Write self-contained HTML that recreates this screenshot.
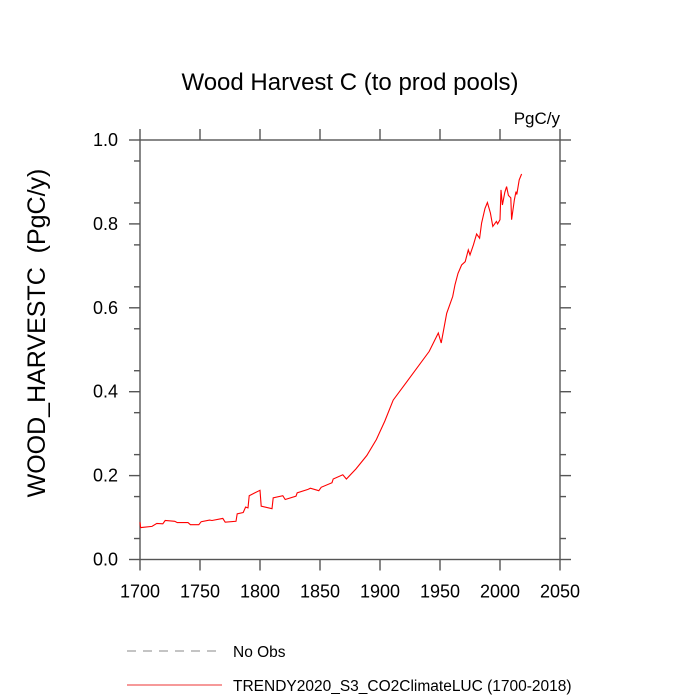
<!DOCTYPE html>
<html><head><meta charset="utf-8"><style>
body{margin:0;background:#fff;}
svg{display:block;font-family:"Liberation Sans",sans-serif;}
</style></head><body>
<svg width="700" height="700">
<text x="350" y="90" text-anchor="middle" font-size="24">Wood Harvest C (to prod pools)</text>
<text x="560" y="124" text-anchor="end" font-size="17">PgC/y</text>
<text transform="translate(45,333) rotate(-90)" text-anchor="middle" font-size="25">WOOD_HARVESTC&#160;&#160;(PgC/y)</text>
<g id="axes"></g>
<g id="series"></g>
<line x1="127" y1="651" x2="222" y2="651" stroke="#888" stroke-width="1" stroke-dasharray="9,7"/>
<text x="233" y="657" font-size="15.5">No Obs</text>
<line x1="127" y1="685" x2="222" y2="685" stroke="#e33" stroke-width="1"/>
<text x="233" y="691" font-size="15.5">TRENDY2020_S3_CO2ClimateLUC (1700-2018)</text>
</svg>
<script>
const years=[1700,1700.5,1710,1714,1719,1721,1729,1731,1740,1742,1749,1751,1758,1760,1769,1771,1780,1781,1786,1788,1790,1791,1800,1801,1810,1811,1819,1821,1830,1831,1840,1842,1849,1851,1860,1861,1869,1872,1880,1889,1897,1904,1911,1924,1941,1948.6,1951,1955.6,1960.6,1962.5,1965,1968,1971,1973.6,1975,1977.8,1980.5,1983,1984.7,1987.5,1989.5,1992,1994,1997,1998,2000,2000.8,2002,2004,2005.5,2007,2009,2009.7,2012,2013.3,2014,2016,2018];
const values=[0.089,0.076,0.079,0.086,0.085,0.093,0.091,0.088,0.088,0.083,0.083,0.090,0.094,0.093,0.098,0.089,0.091,0.109,0.112,0.125,0.123,0.152,0.165,0.127,0.121,0.147,0.152,0.143,0.151,0.159,0.167,0.170,0.164,0.172,0.183,0.192,0.202,0.192,0.216,0.248,0.286,0.330,0.380,0.430,0.496,0.540,0.516,0.587,0.627,0.655,0.682,0.702,0.710,0.738,0.726,0.750,0.776,0.766,0.802,0.837,0.851,0.826,0.794,0.806,0.800,0.810,0.881,0.845,0.875,0.889,0.868,0.862,0.810,0.858,0.877,0.870,0.905,0.919];
const xTicks=[1700,1750,1800,1850,1900,1950,2000,2050];
const yTicks=[0.0,0.2,0.4,0.6,0.8,1.0];
const X0=140,X1=560,Y0=559.5,Y1=140;
const xs=v=>X0+(v-1700)/350*(X1-X0);
const ys=v=>Y0-v*(Y0-Y1);
const NS="http://www.w3.org/2000/svg";
const ax=document.getElementById('axes');
function ln(x1,y1,x2,y2,name){const l=document.createElementNS(NS,'line');l.setAttribute('x1',x1);l.setAttribute('y1',y1);l.setAttribute('x2',x2);l.setAttribute('y2',y2);l.setAttribute('stroke','#555');l.setAttribute('stroke-width','1.4');


ax.appendChild(l);return l;}
function tx(x,y,s,anchor,name){const t=document.createElementNS(NS,'text');t.setAttribute('x',x);t.setAttribute('y',y);t.setAttribute('text-anchor',anchor);t.setAttribute('font-size','18');t.textContent=s;


ax.appendChild(t);}
const fr=document.createElementNS(NS,'rect');fr.setAttribute('x',X0);fr.setAttribute('y',Y1);fr.setAttribute('width',X1-X0);fr.setAttribute('height',Y0-Y1);fr.setAttribute('fill','none');fr.setAttribute('stroke','#555');fr.setAttribute('stroke-width','1.4');


ax.appendChild(fr);
xTicks.forEach(v=>{const x=xs(v);ln(x,Y0,x,Y0+11,'x-tick');ln(x,Y1,x,Y1-11,'x-tick-top');tx(x,Y0+38,String(v),'middle','x-tick-label');});
yTicks.forEach(v=>{const y=ys(v);ln(X0,y,X0-11,y,'y-tick');ln(X1,y,X1+11,y,'y-tick-right');tx(X0-22,y+6,v.toFixed(1),'end','y-tick-label');});
for(let v=0.05;v<1;v+=0.1){const y=ys(v);ln(X0,y,X0-6,y,'y-minor-tick');ln(X1,y,X1+6,y,'y-minor-tick-right');}
const p=document.createElementNS(NS,'polyline');
p.setAttribute('points',years.map((y,i)=>xs(y).toFixed(1)+','+ys(values[i]).toFixed(1)).join(' '));
p.setAttribute('fill','none');p.setAttribute('stroke','#f00');p.setAttribute('stroke-width','1.1');


document.getElementById('series').appendChild(p);
</script>
</body></html>
